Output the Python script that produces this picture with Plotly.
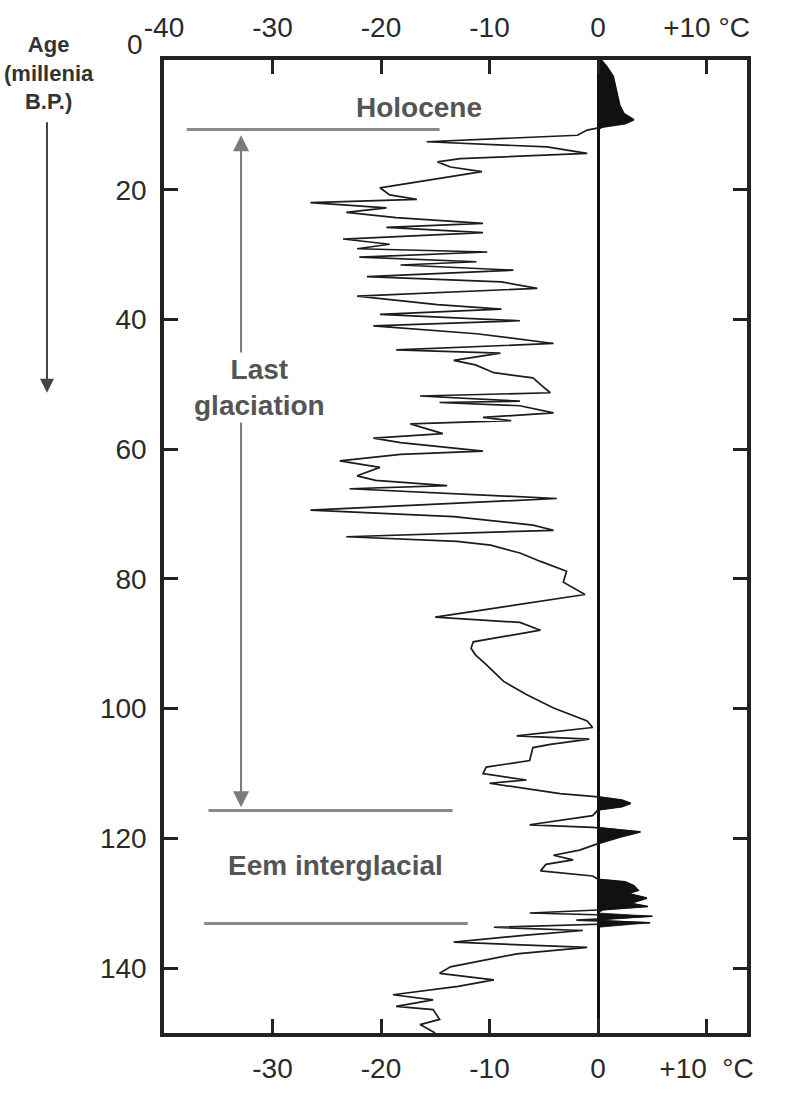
import numpy as np
import plotly.graph_objects as go

# ---- data: temperature anomaly (°C) vs age (millennia B.P.) ----
age = [0.0, 1.0, 2.5, 4.0, 5.5, 7.0, 8.3, 9.2, 9.8, 10.3, 10.8, 11.6, 12.6, 13.4, 14.4,
       15.2, 15.7, 16.5, 17.2, 18.5, 19.7, 20.8, 21.5, 22.0, 22.8, 23.5, 24.3, 25.2, 25.8,
       26.6, 27.6, 28.4, 29.1, 29.6, 30.4, 31.1, 31.6, 32.4, 33.4, 34.2, 35.2, 36.4, 37.7,
       38.4, 39.2, 40.2, 41.0, 42.2, 43.7, 44.7, 45.2, 46.3, 47.0, 48.2, 49.0, 50.3, 51.3,
       51.8, 52.6, 52.8, 53.3, 54.4, 55.1, 55.6, 56.1, 57.6, 58.3, 59.0, 60.3, 60.8, 61.8,
       62.8, 64.1, 64.8, 65.6, 66.1, 67.0, 67.6, 69.4, 70.4, 71.7, 72.5, 73.5, 74.2, 74.8,
       76.0, 77.3, 78.8, 80.5, 82.4, 85.9, 86.7, 87.9, 89.7, 90.7, 91.7, 93.2, 95.8, 97.8,
       99.9, 101.9, 102.9, 104.2, 104.7, 105.5, 106.0, 108.0, 109.0, 110.0, 111.0, 111.5,
       113.1, 113.6, 114.1, 114.6, 115.1, 115.6, 116.5, 117.9, 118.3, 119.0, 119.8, 120.8,
       121.8, 122.6, 123.3, 124.0, 125.0, 125.8, 126.3, 126.7, 127.3, 128.0, 128.5, 129.2,
       130.0, 130.5, 131.0, 131.5, 132.0, 132.6, 133.0, 133.7, 134.2, 134.9, 136.0, 136.8,
       137.8, 139.8, 140.8, 141.8, 142.8, 144.1, 144.9, 145.9, 146.4, 147.9, 148.7, 150.0]
temp = [0.3, 0.8, 1.4, 1.6, 1.8, 2.0, 2.4, 3.3, 2.5, 0.5, -1.0, -1.9, -15.8, -4.7, -1.0,
        -12.7, -14.8, -13.6, -10.7, -15.8, -20.1, -19.2, -16.7, -26.5, -19.5, -23.2, -18.6, -10.6, -19.5,
        -10.6, -23.5, -19.2, -22.2, -10.2, -22.0, -11.2, -18.2, -7.8, -21.3, -8.9, -5.6, -22.2, -14.8,
        -8.9, -20.1, -7.2, -20.7, -11.2, -4.1, -18.6, -9.0, -13.3, -11.3, -9.6, -6.0, -5.1, -4.4,
        -16.4, -7.2, -14.6, -7.2, -4.1, -10.6, -8.0, -17.3, -14.3, -20.7, -18.2, -10.6, -18.2, -23.8,
        -20.1, -22.2, -20.5, -13.9, -22.9, -12.0, -3.8, -26.5, -13.3, -6.0, -4.1, -23.2, -13.0, -9.9,
        -7.2, -5.3, -2.9, -3.2, -1.2, -15.0, -7.2, -5.3, -11.5, -11.7, -11.3, -10.3, -8.7, -6.6,
        -4.1, -1.0, -0.5, -7.5, -0.8, -4.4, -6.0, -6.3, -10.3, -10.6, -6.6, -10.0,
        -3.5, 0.0, 2.2, 3.0, 2.2, 0.0, -0.5, -6.3, -0.5, 3.9, 2.0, 0.0,
        -1.7, -4.1, -2.3, -4.8, -5.3, -0.5, 0.0, 2.5, 3.3, 3.7, 2.8, 4.5,
        3.0, 4.6, 0.5, -6.3, 5.0, -2.0, 4.8, -9.6, -1.4, -6.6, -13.3, -1.0,
        -7.5, -13.6, -14.6, -9.6, -12.9, -18.9, -15.2, -18.6, -15.2, -14.6, -16.4, -15.0]

# axis ticks
age_ticks = [20, 40, 60, 80, 100, 120, 140]
top_tickvals = [-40, -30, -20, -10, 0, 10]
top_ticktext = ["-40", "-30", "-20", "-10", "0", "+10 °C"]
bot_tickvals = [-30, -20, -10, 0, 10]
bot_ticktext = ["-30", "-20", "-10", "0", "+10\u00a0\u00a0°C"]

# period boundaries (age, x-start, x-end)
bound_age = [10.7, 115.7, 133.1]
bound_x0 = [-37.9, -35.9, -36.3]
bound_x1 = [-14.6, -13.4, -12.0]
periods = ["Holocene", "Last<br>glaciation", "Eem interglacial"]
period_x = [-16.5, -31.2, -24.2]
period_y = [7.3, 50.5, 124.1]
glac_arrow_x = -32.9
glac_arrow_ends = [11.6, 115.2]

tick_font = dict(family="Liberation Sans, Arial, sans-serif", size=28, color="#2a2a2a")
lab_font = dict(family="Liberation Sans, Arial, sans-serif", size=28, color="#555555")

temp_arr = np.array(temp)
warm = np.maximum(temp_arr, 0)

fig = go.Figure()
fig.add_trace(go.Scatter(x=warm, y=age, mode="lines", fill="tozerox",
                         fillcolor="#111111", line=dict(color="#111111", width=0.8),
                         xaxis="x2", hoverinfo="skip", showlegend=False))
fig.add_trace(go.Scatter(x=temp, y=age, mode="lines",
                         line=dict(color="#1c1c1c", width=1.7),
                         showlegend=False))

XR = [-40, 13.73]
axis_common = dict(range=XR, ticks="inside", ticklen=14, tickwidth=3, tickcolor="#222",
                   showgrid=False, tickfont=tick_font, ticklabelstandoff=8)
fig.update_layout(
    width=785, height=1096,
    margin=dict(l=164, r=38, t=60, b=55),
    paper_bgcolor="white", plot_bgcolor="white",
    xaxis=dict(**axis_common, tickvals=bot_tickvals, ticktext=bot_ticktext,
               showline=True, linewidth=3.5, linecolor="#222",
               zeroline=True, zerolinecolor="#111", zerolinewidth=2.5),
    xaxis2=dict(**axis_common, tickvals=top_tickvals, ticktext=top_ticktext,
                overlaying="x", side="top", showline=True, linewidth=3.5,
                linecolor="#222", zeroline=False),
    yaxis=dict(range=[150, 0], tickvals=age_ticks, ticks="inside", ticklen=14,
               tickwidth=3, tickcolor="#222", showgrid=False, zeroline=False,
               showline=True, linewidth=3.5, linecolor="#222", mirror="ticks",
               tickfont=tick_font, ticklabelstandoff=8),
    showlegend=False,
)

# period boundary lines
for a, x0, x1 in zip(bound_age, bound_x0, bound_x1):
    fig.add_shape(type="line", x0=x0, x1=x1, y0=a, y1=a, xref="x", yref="y",
                  line=dict(color="#8a8a8a", width=3))

# glaciation double arrow
mid = period_y[1]
for end in glac_arrow_ends:
    fig.add_annotation(x=glac_arrow_x, y=end, ax=glac_arrow_x, ay=mid,
                       xref="x", yref="y", axref="x", ayref="y", text="",
                       showarrow=True, arrowhead=2, arrowsize=1.6, arrowwidth=2,
                       arrowcolor="#7a7a7a")

for t, px_, py_ in zip(periods, period_x, period_y):
    fig.add_annotation(x=px_, y=py_, xref="x", yref="y", text="<b>%s</b>" % t,
                       showarrow=False, font=lab_font,
                       bgcolor="white" if "glac" in t else None)

# age axis title and arrow
fig.add_annotation(x=-0.197, y=0.9867, xref="paper", yref="paper",
                   xanchor="center", yanchor="middle",
                   text="<b>Age<br>(millenia<br>B.P.)</b>", showarrow=False,
                   font=dict(family="Liberation Sans, Arial, sans-serif", size=22, color="#333"))
fig.add_annotation(x=-0.2007, y=51.3, xref="paper", yref="y", ax=0, ay=-272, text="",
                   showarrow=True, arrowhead=2, arrowsize=1.4, arrowwidth=2, arrowcolor="#444")
fig.add_annotation(x=-0.05, y=1.016, xref="paper", yref="paper", text="0",
                   xanchor="center", yanchor="middle",
                   showarrow=False, font=tick_font)

fig.write_html("out.html")
